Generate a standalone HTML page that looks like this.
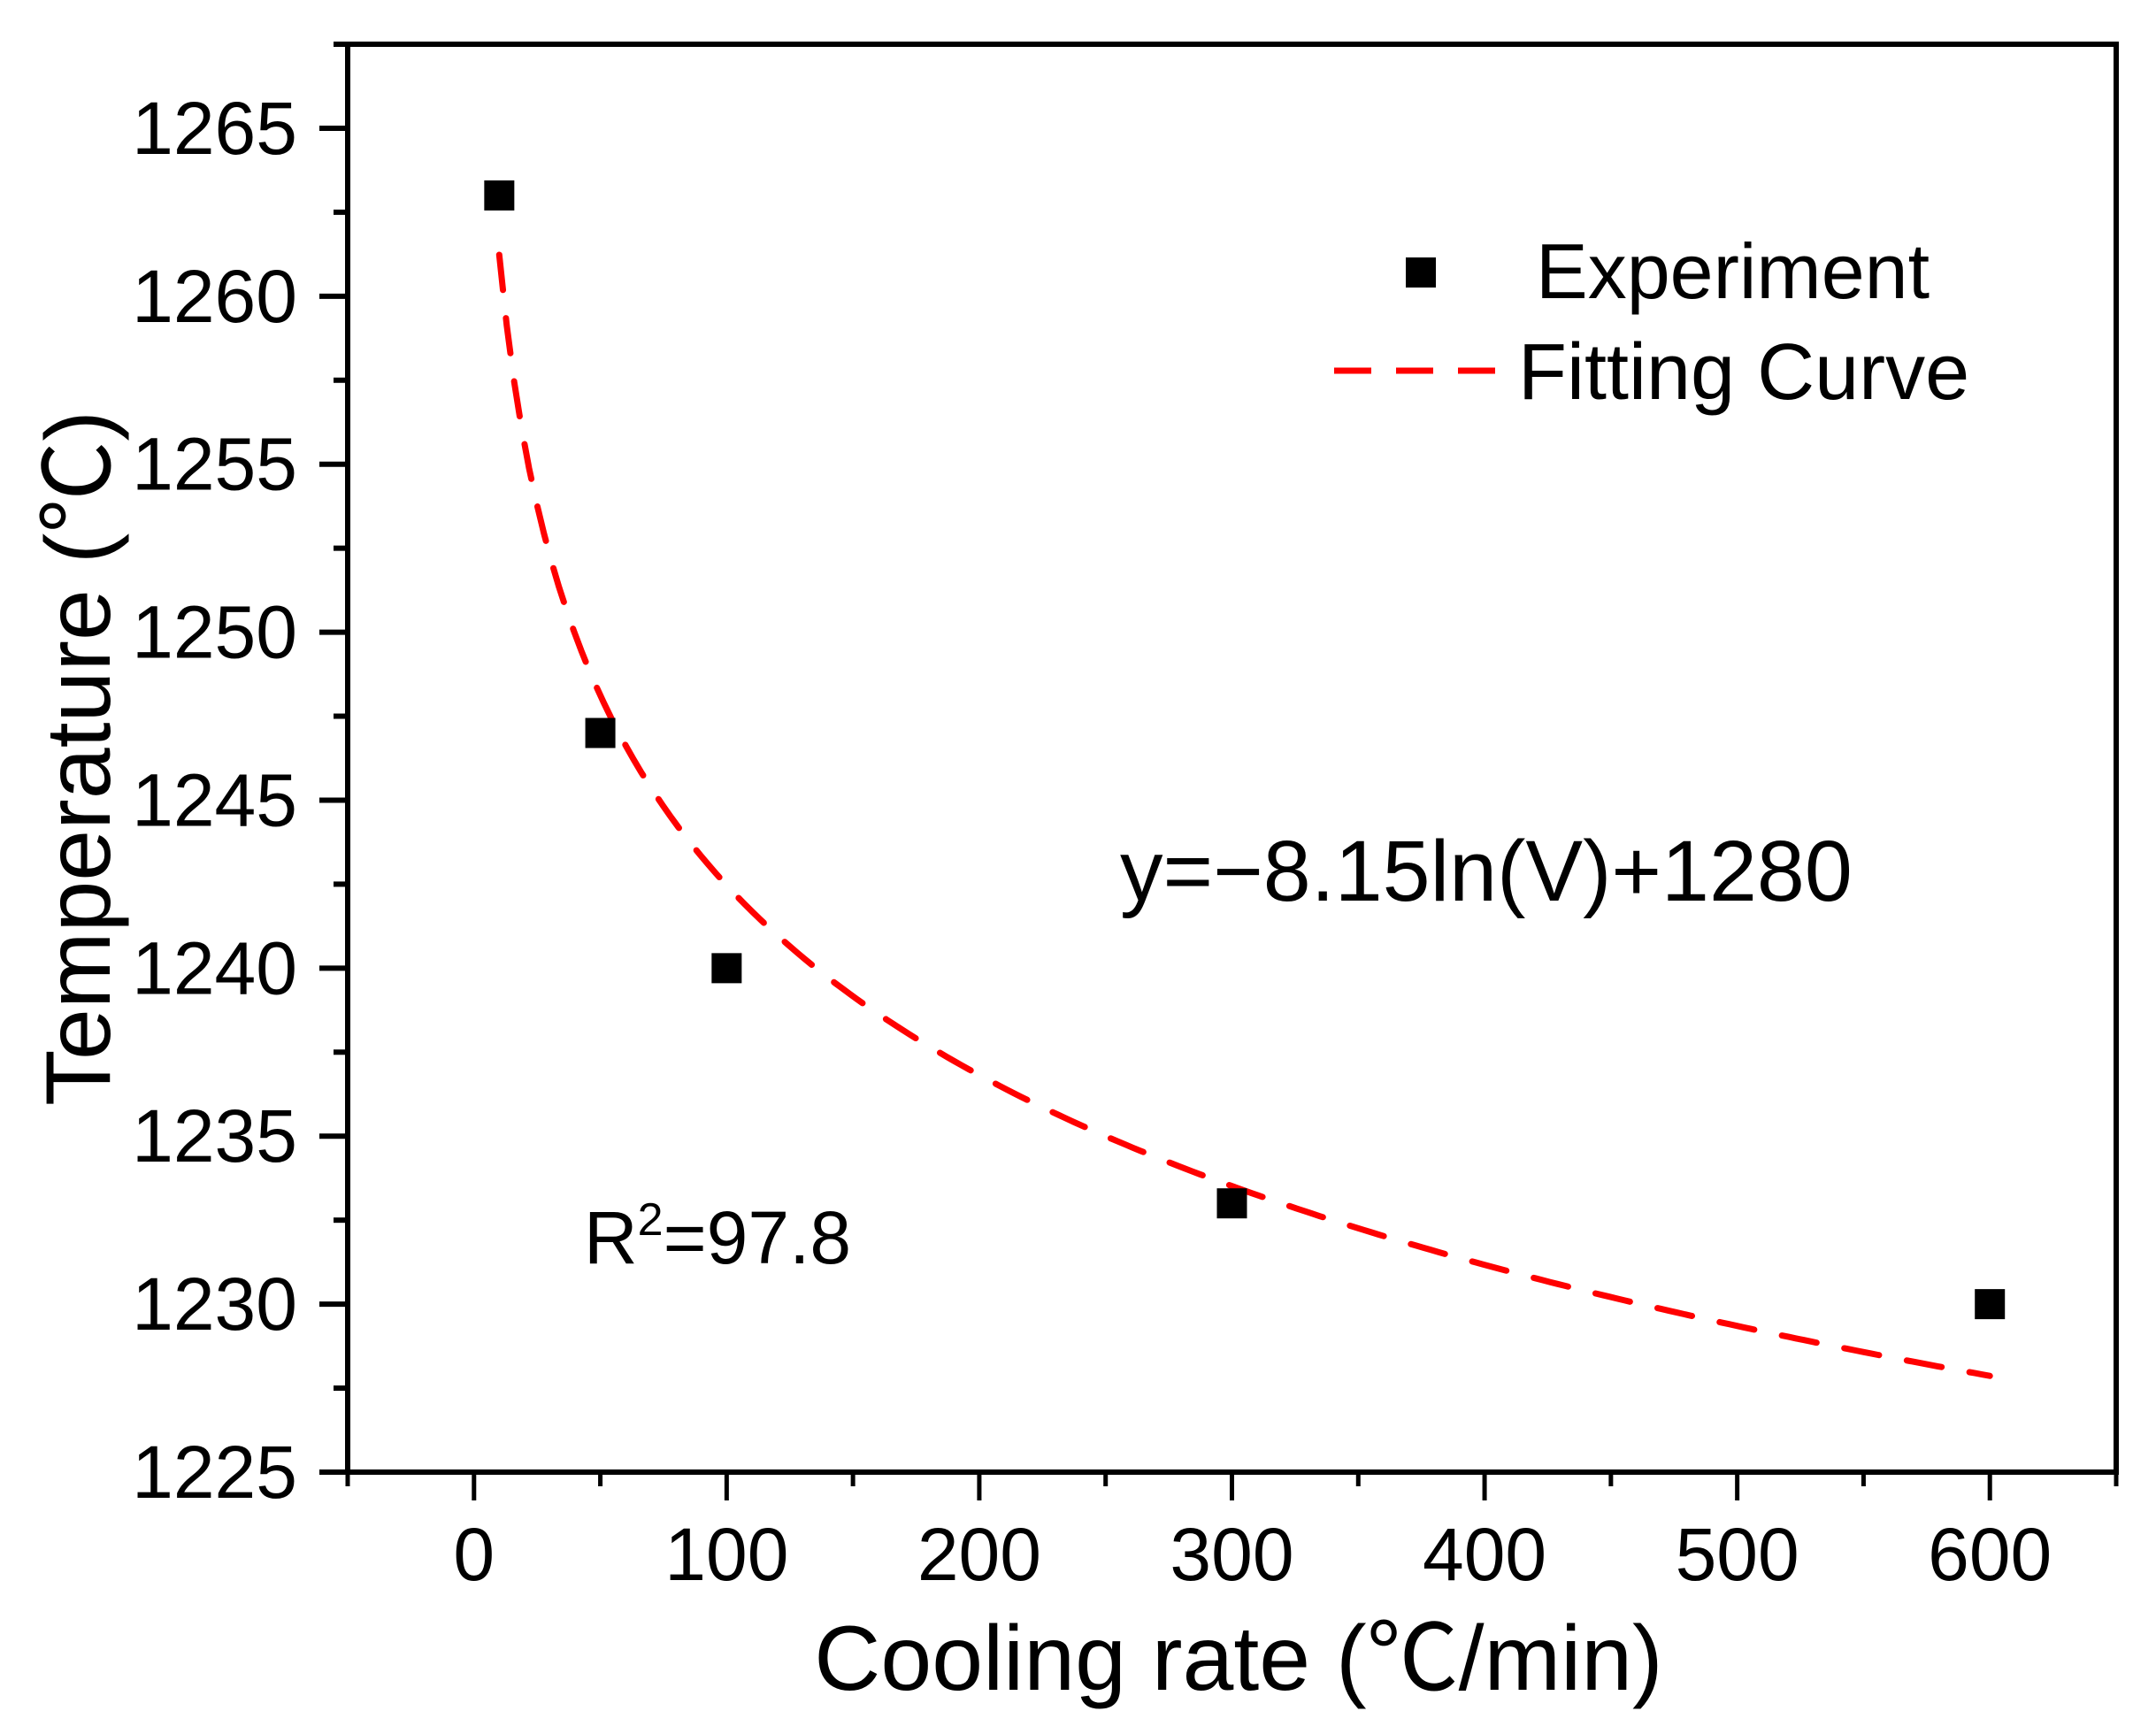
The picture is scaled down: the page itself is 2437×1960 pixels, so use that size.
<!DOCTYPE html>
<html><head><meta charset="utf-8"><style>
html,body{margin:0;padding:0;background:#fff;}
svg{display:block;font-family:"Liberation Sans","Noto Sans CJK SC",sans-serif;}
</style></head><body>
<svg id="chart" width="2437" height="1960" viewBox="0 0 2437 1960" xmlns="http://www.w3.org/2000/svg">
<g id="axes"></g>
<g id="marks"></g>
<g id="legend">
  <rect x="1589" y="291" width="34" height="34" fill="#000"/>
  <text x="1736" y="337" font-size="88">Experiment</text>
  <line x1="1508" y1="419" x2="1714" y2="419" stroke="#f00" stroke-width="7" stroke-dasharray="42 28"/>
  <text x="1716" y="451" font-size="90">Fitting Curve</text>
</g>
<text x="1266" y="1018" font-size="97">y=−8.15ln(V)+1280</text>
<text x="660" y="1428" font-size="84">R<tspan dy="-32" font-size="52">2</tspan><tspan dy="32">=97.8</tspan></text>
<text x="1400" y="1910" font-size="104" text-anchor="middle">Cooling rate (℃/min)</text>
<text transform="translate(124,857) rotate(-90)" font-size="104" text-anchor="middle">Temperature (℃)</text>
</svg>
<script>
const xs = [10, 50, 100, 300, 600];
const ys = [1263, 1247, 1240, 1233, 1230];
const fitCoef = [-8.15, 1280];
const fitRange = [10, 600];
const xTicks = [0, 100, 200, 300, 400, 500, 600];
const yTicks = [1225, 1230, 1235, 1240, 1245, 1250, 1255, 1260, 1265];
const xDomain = [-50, 650];
const yDomain = [1225, 1267.5];

const L=393, R=2392, T=50, B=1664;
const sx = v => L + (v - xDomain[0]) / (xDomain[1] - xDomain[0]) * (R - L);
const sy = v => B - (v - yDomain[0]) / (yDomain[1] - yDomain[0]) * (B - T);
const NS = "http://www.w3.org/2000/svg";
function mk(tag, attrs, parent){ const e=document.createElementNS(NS,tag); for(const k in attrs) e.setAttribute(k, attrs[k]); parent.appendChild(e); return e; }
const axes=document.getElementById('axes'), marks=document.getElementById('marks');

const frame = mk('rect',{x:L,y:T,width:R-L,height:B-T,fill:'none',stroke:'#000','stroke-width':6},axes);



for(const t of xTicks){
  const x=sx(t);
  const tk=mk('line',{x1:x,y1:B,x2:x,y2:B+32,stroke:'#000','stroke-width':5},axes);
  
  
  const lb=mk('text',{x:x,y:1786,'font-size':84,'text-anchor':'middle'},axes);
  lb.textContent=t;
  
  
}
for(let i=0;i<xTicks.length+1;i++){
  const v=xTicks[0]-50+i*100;
  const x=sx(v);
  const tk=mk('line',{x1:x,y1:B,x2:x,y2:B+16,stroke:'#000','stroke-width':5},axes);
  
  
}
for(const t of yTicks){
  const y=sy(t);
  const tk=mk('line',{x1:L-32,y1:y,x2:L,y2:y,stroke:'#000','stroke-width':6},axes);
  
  
  const lb=mk('text',{x:336,y:y+29,'font-size':84,'text-anchor':'end'},axes);
  lb.textContent=t;
  
  
}
for(let i=0;i<yTicks.length;i++){
  const y=sy(yTicks[i]+2.5);
  const tk=mk('line',{x1:L-16,y1:y,x2:L,y2:y,stroke:'#000','stroke-width':6},axes);
  
  
}

let d='';
for(let i=0;i<=200;i++){
  const v=fitRange[0]+(fitRange[1]-fitRange[0])*i/200;
  const yv=fitCoef[0]*Math.log(v)+fitCoef[1];
  d+=(i?'L':'M')+sx(v).toFixed(1)+' '+sy(yv).toFixed(1);
}
const fit=mk('path',{d:d,fill:'none',stroke:'#f00','stroke-width':7,'stroke-dasharray':'40 32','stroke-linecap':'round'},marks);



for(let i=0;i<xs.length;i++){
  const p=mk('rect',{x:sx(xs[i])-17,y:sy(ys[i])-17,width:34,height:34,fill:'#000'},marks);
  
  
}
</script>
</body></html>
